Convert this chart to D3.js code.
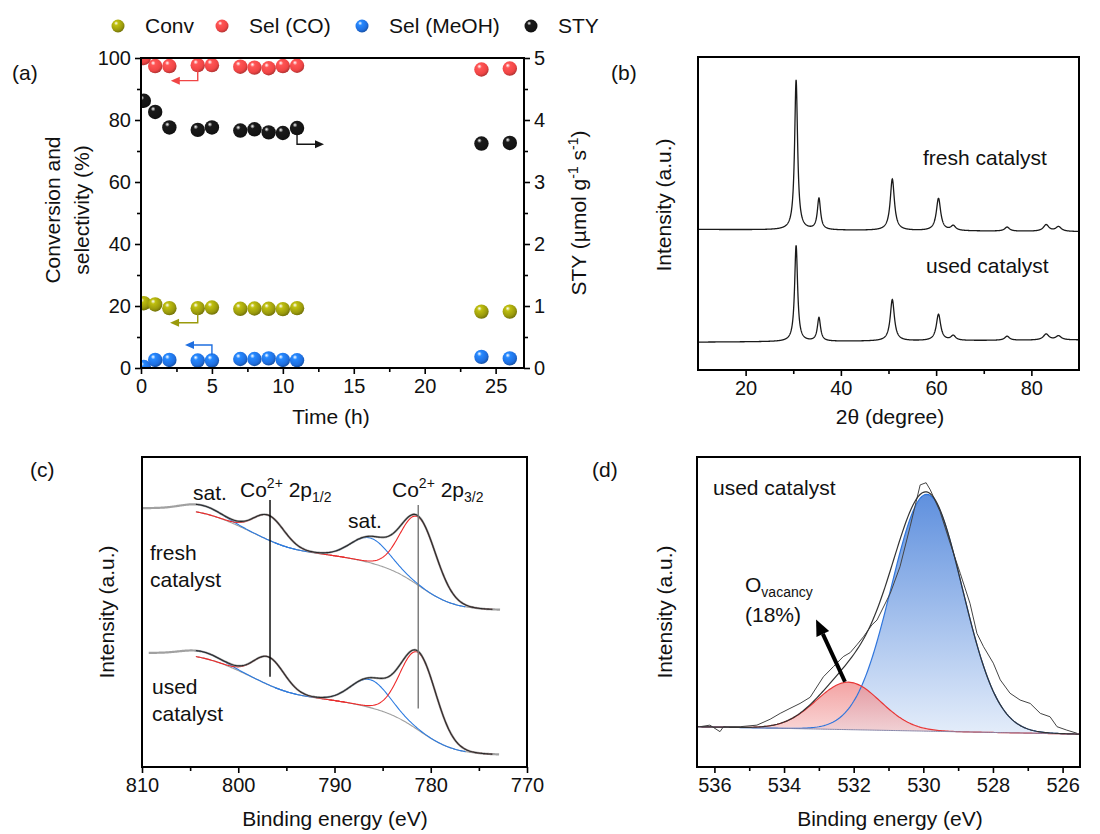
<!DOCTYPE html>
<html>
<head>
<meta charset="utf-8">
<title>Catalyst figure</title>
<script src="https://cdn.jsdelivr.net/npm/d3@7"></script>
<style>
  body { margin: 0; background: #fff; }
  svg text { font-family: Arial, "Liberation Sans", sans-serif; fill: #111; }
  .tick text { font-size: 20px; }
  .tick line { stroke: #000; stroke-width: 1.6; }
</style>
</head>
<body>
<svg id="fig" width="1100" height="834"></svg>
<script>
// ---------- (a) time on stream ----------
const times    = [0.2, 1, 2, 4, 5, 7, 8, 9, 10, 11, 24, 26];
const conv     = [20.9, 20.5, 19.3, 19.3, 19.5, 19.1, 19.2, 19.1, 19.0, 19.3, 18.2, 18.2];
const selCO    = [100, 97.4, 97.4, 97.7, 97.7, 97.2, 96.9, 96.7, 97.4, 97.5, 96.3, 96.6];
const selMeOH  = [0.3, 2.6, 2.6, 2.4, 2.4, 2.9, 2.9, 3.1, 2.6, 2.5, 3.6, 3.1];
const sty      = [4.31, 4.13, 3.88, 3.84, 3.88, 3.83, 3.85, 3.80, 3.79, 3.87, 3.62, 3.63];
const seriesNames  = ["Conv", "Sel (CO)", "Sel (MeOH)", "STY"];
const seriesColors = ["#9a9a0c", "#f04545", "#1f6fe0", "#151515"];

// ---------- (b) XRD peaks (2theta, height, fwhm) ----------
const xrdPos       = [30.6, 35.4, 50.8, 60.5, 63.6, 74.9, 83.1, 85.7];
const xrdFresh     = [47.9, 10.0, 16.4, 10.3, 1.5, 1.3, 2.1, 1.5];
const xrdUsed      = [30.7, 7.5, 13.2, 8.4, 1.5, 1.3, 1.9, 1.3];
const xrdFwhm      = [0.75, 0.8, 1.05, 1.1, 1.2, 1.2, 1.4, 1.4];
const xrdBaseFresh = [44.9, 44.2];   // at 10 and 90 deg
const xrdBaseUsed  = [8.9, 9.6];

// ---------- (c) Co 2p fit ----------
const coStepCenter = [781.0, 787.0, 797.0, 801.0];
const coStepSize   = [14, 4.5, 7, 7.5];
const coStepWidth  = [1.8, 2.5, 1.8, 2.0];
const coCompCenter = [803.8, 796.8, 786.3, 781.3];
const coCompSigma  = [2.0, 1.6, 2.0, 1.85];
const coCompType   = ["sat", "main", "sat", "main"];
const coFreshHeight = [2.5, 8, 8, 22];
const coUsedHeight  = [2.0, 9, 9, 25];
const coBaseFresh = 50.6, coBaseUsed = 3.9;
const coLines = [796.7, 781.3];

// ---------- (d) O 1s fit ----------
const o1sCenter = [529.9, 532.15];   // lattice O, O vacancy
const o1sSigma  = [1.02, 0.92];
const o1sHeight = [76.4, 15.3];
const o1sBase   = [13.0, 10.6];      // at 536.5 and 525.5 eV
const o1sRawE = [536.41, 536.13, 535.84, 535.74, 535.26, 534.78, 534.40, 534.11, 533.83, 533.54,
                 533.25, 532.87, 532.58, 532.30, 532.10, 531.91, 531.72, 531.48, 531.33, 530.95,
                 530.67, 530.38, 530.09, 529.92, 529.80, 529.52, 529.23, 528.94, 528.66, 528.46,
                 528.27, 527.99, 527.79, 527.51, 527.22, 526.93, 526.64, 526.36, 526.16, 525.88, 525.59];
const o1sRawI = [13.0, 13.5, 11.4, 13.0, 13.0, 13.5, 15.4, 17.3, 18.9, 20.5,
                 22.5, 29.1, 32.4, 35.6, 36.9, 39.4, 42.0, 45.8, 47.4, 56.0,
                 64.6, 77.5, 91.0, 91.7, 89.4, 82.4, 72.2, 62.5, 52.8, 43.1,
                 38.8, 33.5, 28.1, 23.8, 21.6, 20.5, 17.3, 16.2, 13.0, 11.9, 10.9];

const svg = d3.select("#fig");
const defs = svg.append("defs");

function frame(x0, y0, x1, y1) {
  svg.append("rect").attr("x", x0).attr("y", y0)
    .attr("width", x1 - x0).attr("height", y1 - y0)
    .attr("fill", "none").attr("stroke", "#000").attr("stroke-width", 2);
}
function addAxis(axis, tx, ty, labels) {
  const g = svg.append("g").attr("transform", "translate(" + tx + "," + ty + ")").call(axis);
  g.select(".domain").remove();
  if (!labels) g.selectAll("text").remove();
  return g;
}
function label(x, y, txt, size, anchor, rot) {
  const t = svg.append("text").attr("x", x).attr("y", y)
    .attr("font-size", size).attr("text-anchor", anchor || "start").text(txt);
  if (rot) t.attr("transform", "rotate(" + rot + "," + x + "," + y + ")");
  return t;
}

// sphere gradients
seriesColors.forEach(function(c, i) {
  const gr = defs.append("radialGradient").attr("id", "ball" + i)
    .attr("cx", "0.4").attr("cy", "0.35").attr("r", "0.65").attr("fx", "0.35").attr("fy", "0.28");
  gr.append("stop").attr("offset", "0").attr("stop-color", "#ffffff").attr("stop-opacity", 0.95);
  gr.append("stop").attr("offset", "0.25").attr("stop-color", d3.color(c).brighter(0.6));
  gr.append("stop").attr("offset", "0.75").attr("stop-color", c);
  gr.append("stop").attr("offset", "1").attr("stop-color", d3.color(c).darker(0.8));
});

// ================= (a) =================
const ax = d3.scaleLinear().domain([0, 27]).range([141, 524]);
const ay = d3.scaleLinear().domain([0, 100]).range([368, 58]);
const ay2 = d3.scaleLinear().domain([0, 5]).range([368, 58]);

defs.append("clipPath").attr("id", "clipA").append("rect")
  .attr("x", 141).attr("y", 58).attr("width", 383).attr("height", 310);

addAxis(d3.axisBottom(ax).tickValues([0, 5, 10, 15, 20, 25]).tickSize(6).tickPadding(5), 0, 368, true);
addAxis(d3.axisBottom(ax).tickValues([2.5, 7.5, 12.5, 17.5, 22.5]).tickSize(4), 0, 368, false);
addAxis(d3.axisLeft(ay).tickValues([0, 20, 40, 60, 80, 100]).tickSize(6).tickPadding(4), 141, 0, true);
addAxis(d3.axisLeft(ay).tickValues([10, 30, 50, 70, 90]).tickSize(4), 141, 0, false);
addAxis(d3.axisRight(ay2).tickValues([0, 1, 2, 3, 4, 5]).tickFormat(d3.format("d")).tickSize(6).tickPadding(4), 524, 0, true);
addAxis(d3.axisRight(ay2).tickValues([0.5, 1.5, 2.5, 3.5, 4.5]).tickSize(4), 524, 0, false);

const pts = svg.append("g").attr("clip-path", "url(#clipA)");
[[conv, ay, 0], [selCO, ay, 1], [selMeOH, ay, 2], [sty, ay2, 3]].forEach(function(s) {
  pts.selectAll(null).data(s[0]).enter().append("circle")
    .attr("cx", function(d, i) { return ax(times[i]); })
    .attr("cy", function(d) { return s[1](d); })
    .attr("r", 7.2)
    .attr("fill", "url(#ball" + s[2] + ")");
});
frame(141, 58, 524, 368);

// guide arrows: [t vertical, v start, v end, t end, scale, color]
const guides = [
  [4.0, 96.1, 92.7, 2.1, ay, seriesColors[1]],
  [4.0, 18.1, 14.6, 2.05, ay, seriesColors[0]],
  [5.0, 4.2, 7.4, 3.1, ay, seriesColors[2]],
  [11.0, 3.78, 3.61, 12.9, ay2, seriesColors[3]]
];
guides.forEach(function(a) {
  const sc = a[4];
  const xv = ax(a[0]), y0 = sc(a[1]), y1 = sc(a[2]), xe = ax(a[3]);
  const dir = xe > xv ? 1 : -1;
  svg.append("path").attr("d", "M" + xv + "," + y0 + "V" + y1 + "H" + (xe - dir * 6))
    .attr("fill", "none").attr("stroke", a[5]).attr("stroke-width", 1.4);
  svg.append("path").attr("d", "M" + xe + "," + y1 + "l" + (-dir * 9) + ",-4 l0,8z").attr("fill", a[5]);
});

// legend
const legX = [118, 222, 362, 531];
seriesNames.forEach(function(n, i) {
  svg.append("circle").attr("cx", legX[i]).attr("cy", 26).attr("r", 6.5).attr("fill", "url(#ball" + i + ")");
  label(legX[i] + 27, 33, n, 21);
});
label(12, 80, "(a)", 21);
label(331, 424, "Time (h)", 21, "middle");
label(60, 210, "Conversion and", 21, "middle", -90);
label(89, 210, "selectivity (%)", 21, "middle", -90);
const styT = label(586, 213, "", 21, "middle", -90);
styT.append("tspan").text("STY (\u00b5mol g");
styT.append("tspan").attr("dy", -8).attr("font-size", 14).text("-1");
styT.append("tspan").attr("dy", 8).text(" s");
styT.append("tspan").attr("dy", -8).attr("font-size", 14).text("-1");
styT.append("tspan").attr("dy", 8).text(")");

// ================= (b) =================
const bx = d3.scaleLinear().domain([10, 90]).range([698, 1079]);
const by = d3.scaleLinear().domain([0, 100]).range([370, 57]);
addAxis(d3.axisBottom(bx).tickValues([20, 40, 60, 80]).tickSize(6).tickPadding(5), 0, 370, true);
addAxis(d3.axisBottom(bx).tickValues([30, 50, 70]).tickSize(4), 0, 370, false);

function xrdProfile(base, heights) {
  return d3.range(10, 90.001, 0.04).map(function(t) {
    let v = base[0] + (base[1] - base[0]) * (t - 10) / 80;
    xrdPos.forEach(function(p, i) {
      const z = (t - p) / (xrdFwhm[i] / 2);
      v += heights[i] / (1 + z * z);
    });
    return [t, v];
  });
}
const xrdLine = d3.line().x(function(d) { return bx(d[0]); }).y(function(d) { return by(d[1]); });
[xrdProfile(xrdBaseFresh, xrdFresh), xrdProfile(xrdBaseUsed, xrdUsed)].forEach(function(c) {
  svg.append("path").attr("d", xrdLine(c)).attr("fill", "none").attr("stroke", "#1a1a1a").attr("stroke-width", 1.3);
});
frame(698, 57, 1079, 370);
label(923, 165, "fresh catalyst", 21);
label(926, 273, "used catalyst", 21);
label(611, 80, "(b)", 21);
label(890, 424, "2\u03b8 (degree)", 21, "middle");
label(671, 205, "Intensity (a.u.)", 21, "middle", -90);

// ================= (c) =================
const cx = d3.scaleLinear().domain([810, 770]).range([142, 527]);
const cy = d3.scaleLinear().domain([0, 100]).range([767, 457]);
addAxis(d3.axisBottom(cx).tickValues([810, 800, 790, 780, 770]).tickSize(6).tickPadding(5), 0, 767, true);
addAxis(d3.axisBottom(cx).tickValues([805, 795, 785, 775]).tickSize(4), 0, 767, false);

function coBg(e, base) {
  let v = base;
  coStepCenter.forEach(function(c, i) {
    v += coStepSize[i] / (1 + Math.exp(-(e - c) / coStepWidth[i]));
  });
  return v;
}
function gauss(e, c, s, h) { return h * Math.exp(-(e - c) * (e - c) / (2 * s * s)); }
const cLine = d3.line().x(function(d) { return cx(d[0]); }).y(function(d) { return cy(d[1]); });

function drawCo(base, heights, eStart) {
  const fitE = d3.range(804.4, 773.5, -0.1);
  const rawE = d3.range(eStart, 772.8, -0.1);
  const env = function(e) {
    let v = coBg(e, base);
    heights.forEach(function(h, i) { v += gauss(e, coCompCenter[i], coCompSigma[i], h); });
    return v;
  };
  svg.append("path").attr("d", cLine(fitE.map(function(e) { return [e, coBg(e, base)]; })))
    .attr("fill", "none").attr("stroke", "#a0a0a0").attr("stroke-width", 1.1);
  [0, 2, 1, 3].forEach(function(i) {
    const c = coCompCenter[i], s = coCompSigma[i];
    const es = fitE.filter(function(e) { return Math.abs(e - c) < 5 * s; });
    svg.append("path").attr("d", cLine(es.map(function(e) { return [e, coBg(e, base) + gauss(e, c, s, heights[i])]; })))
      .attr("fill", "none").attr("stroke", coCompType[i] === "sat" ? "#2d7be0" : "#ee2a2a").attr("stroke-width", 1.1);
  });
  svg.append("path").attr("d", cLine(rawE.map(function(e) { return [e, env(e)]; })))
    .attr("fill", "none").attr("stroke", "#8a8a8a").attr("stroke-width", 2.2).attr("opacity", 0.8);
  svg.append("path").attr("d", cLine(fitE.map(function(e) { return [e, env(e)]; })))
    .attr("fill", "none").attr("stroke", "#2a2a2a").attr("stroke-width", 1.1);
}
drawCo(coBaseFresh, coFreshHeight, 810);
drawCo(coBaseUsed, coUsedHeight, 809.3);

svg.append("line").attr("x1", cx(coLines[0])).attr("x2", cx(coLines[0]))
  .attr("y1", cy(86.1)).attr("y2", cy(29.1)).attr("stroke", "#000").attr("stroke-width", 1.4);
svg.append("line").attr("x1", cx(coLines[1])).attr("x2", cx(coLines[1]))
  .attr("y1", cy(84.5)).attr("y2", cy(18.9)).attr("stroke", "#777").attr("stroke-width", 1.4);
frame(142, 457, 527, 767);

function coLabel(x, y, sub) {
  const t = label(x, y, "", 21);
  t.append("tspan").text("Co");
  t.append("tspan").attr("dy", -9).attr("font-size", 14).text("2+");
  t.append("tspan").attr("dy", 9).text(" 2p");
  t.append("tspan").attr("dy", 5).attr("font-size", 14).text(sub);
}
label(193, 500, "sat.", 21);
coLabel(240, 497, "1/2");
label(348, 528, "sat.", 21);
coLabel(392, 497, "3/2");
label(150, 560, "fresh", 21);
label(150, 587, "catalyst", 21);
label(152, 694, "used", 21);
label(152, 721, "catalyst", 21);
label(30, 477, "(c)", 21);
label(335, 826, "Binding energy (eV)", 21, "middle");
label(114, 612, "Intensity (a.u.)", 21, "middle", -90);

// ================= (d) =================
const dx = d3.scaleLinear().domain([536.5, 525.5]).range([697, 1080]);
const dy = d3.scaleLinear().domain([0, 100]).range([767, 457]);
addAxis(d3.axisBottom(dx).tickValues([536, 534, 532, 530, 528, 526]).tickSize(6).tickPadding(5), 0, 767, true);
addAxis(d3.axisBottom(dx).tickValues([535, 533, 531, 529, 527]).tickSize(4), 0, 767, false);

const gB = defs.append("linearGradient").attr("id", "gBlue").attr("x1", 0).attr("y1", 0).attr("x2", 0).attr("y2", 1);
gB.append("stop").attr("offset", "0").attr("stop-color", "#5f90de");
gB.append("stop").attr("offset", "1").attr("stop-color", "#e4edfa");
const gR = defs.append("linearGradient").attr("id", "gRed").attr("x1", 0).attr("y1", 0).attr("x2", 0).attr("y2", 1);
gR.append("stop").attr("offset", "0").attr("stop-color", "#ef8080");
gR.append("stop").attr("offset", "1").attr("stop-color", "#f7caca");

function oBg(e) { return o1sBase[0] + (o1sBase[1] - o1sBase[0]) * (536.5 - e) / 11; }
const dE = d3.range(536.5, 525.49, -0.05);
const dArea = d3.area().x(function(d) { return dx(d[0]); }).y0(function(d) { return dy(d[2]); }).y1(function(d) { return dy(d[1]); });
const dLine = d3.line().x(function(d) { return dx(d[0]); }).y(function(d) { return dy(d[1]); });
const comp = [0, 1].map(function(k) {
  return dE.map(function(e) { return [e, oBg(e) + gauss(e, o1sCenter[k], o1sSigma[k], o1sHeight[k]), oBg(e)]; });
});
svg.append("path").attr("d", dArea(comp[0])).attr("fill", "url(#gBlue)");
svg.append("path").attr("d", dArea(comp[1])).attr("fill", "url(#gRed)").attr("opacity", 0.72);
svg.append("path").attr("d", dLine(comp[0])).attr("fill", "none").attr("stroke", "#2f75dc").attr("stroke-width", 1.2);
svg.append("path").attr("d", dLine(comp[1])).attr("fill", "none").attr("stroke", "#e83535").attr("stroke-width", 1.2);
svg.append("path").attr("d", dLine(dE.map(function(e) { return [e, oBg(e)]; })))
  .attr("fill", "none").attr("stroke", "#8888aa").attr("stroke-width", 1);
svg.append("path").attr("d", dLine(o1sRawE.map(function(e, i) { return [e, o1sRawI[i]]; })))
  .attr("fill", "none").attr("stroke", "#444").attr("stroke-width", 1);
svg.append("path").attr("d", dLine(dE.map(function(e) {
    return [e, oBg(e) + gauss(e, o1sCenter[0], o1sSigma[0], o1sHeight[0]) + gauss(e, o1sCenter[1], o1sSigma[1], o1sHeight[1])];
  })))
  .attr("fill", "none").attr("stroke", "#333").attr("stroke-width", 1.2);

// arrow to the vacancy component
const tail = [dx(532.25), dy(27.5)], tip = [dx(533.08), dy(47.6)];
const ang = Math.atan2(tip[1] - tail[1], tip[0] - tail[0]);
const hb = [tip[0] - 16 * Math.cos(ang), tip[1] - 16 * Math.sin(ang)];
svg.append("line").attr("x1", tail[0]).attr("y1", tail[1]).attr("x2", hb[0]).attr("y2", hb[1])
  .attr("stroke", "#000").attr("stroke-width", 4);
svg.append("path").attr("d", "M" + tip[0] + "," + tip[1] +
    "L" + (hb[0] + 7 * Math.sin(ang)) + "," + (hb[1] - 7 * Math.cos(ang)) +
    "L" + (hb[0] - 7 * Math.sin(ang)) + "," + (hb[1] + 7 * Math.cos(ang)) + "Z")
  .attr("fill", "#000");

frame(697, 457, 1080, 767);
label(713, 495, "used catalyst", 21);
const ov = label(745, 592, "", 21);
ov.append("tspan").text("O");
ov.append("tspan").attr("dy", 5).attr("font-size", 14).text("vacancy");
label(745, 622, "(18%)", 21);
label(592, 477, "(d)", 21);
label(890, 826, "Binding energy (eV)", 21, "middle");
label(672, 612, "Intensity (a.u.)", 21, "middle", -90);
</script>
</body>
</html>
